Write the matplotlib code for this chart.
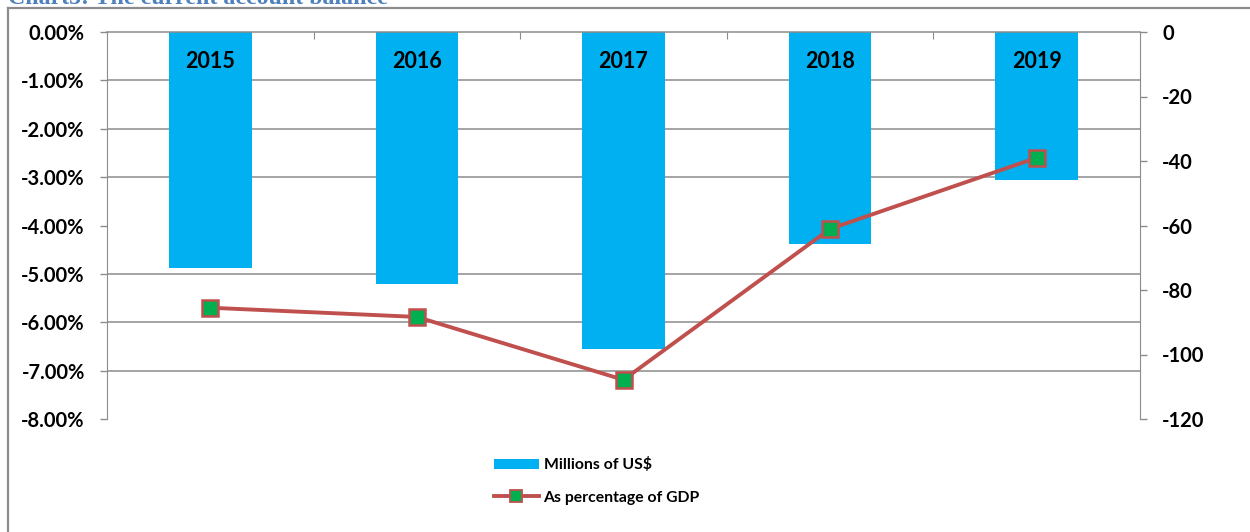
import matplotlib
matplotlib.use("Agg")
import matplotlib.pyplot as plt
from matplotlib.lines import Line2D
from matplotlib.patches import Patch
from matplotlib.ticker import FuncFormatter, MultipleLocator
import numpy as np

years = ["2015", "2016", "2017", "2018", "2019"]
millions_usd = [-73.2, -78.1, -98.3, -65.8, -45.9]
pct_gdp = [-5.70, -5.89, -7.19, -4.07, -2.60]

title = "Chart5: The current account balance"
bar_label = "Millions of US$"
line_label = "As percentage of GDP"

FONT = "Lato"
GRAY = "#8c8c8c"

fig = plt.figure(figsize=(12.5, 5.32), dpi=100)
ax2 = fig.add_axes([107/1250, 1-419/532, (1140-107)/1250, (419-32)/532])
ax = fig.add_axes(ax2.get_position(), sharex=ax2)
ax.patch.set_visible(False)

x = np.arange(len(years))

# back axis (right scale): bars + grid
ax2.bar(x, millions_usd, width=0.4, color="#00B0F0", zorder=2)
ax2.set_ylim(-120, 0)
ax2.set_xlim(-0.5, len(years) - 0.5)
ax2.yaxis.tick_right()
ax2.yaxis.set_major_locator(MultipleLocator(20))
ax2.yaxis.set_minor_locator(MultipleLocator(15))
ax2.set_axisbelow(True)
ax2.grid(which="minor", axis="y", color=GRAY, lw=1.1)
ax2.tick_params(axis="y", which="minor", length=0)
ax2.tick_params(axis="y", which="major", direction="out", length=5, width=1,
                color=GRAY, pad=11, labelsize=14.5)
ax2.yaxis.set_major_formatter(FuncFormatter(lambda v, p: f"{int(round(v))}"))
for lab in ax2.get_yticklabels():
    lab.set_fontfamily(FONT)
    lab.set_fontweight("bold")
ax2.set_xticks(np.arange(0.5, len(years) - 0.5, 1.0))
ax2.xaxis.tick_top()
ax2.tick_params(axis="x", direction="in", length=5, color=GRAY, labeltop=False, labelbottom=False)
for s in ["left", "bottom"]:
    ax2.spines[s].set_visible(False)
ax2.spines["right"].set_color(GRAY)
ax2.spines["top"].set_color(GRAY)
ax2.spines["top"].set_linewidth(1.1)

# front axis (left scale): line
ax.plot(x, pct_gdp, color="#C0504D", lw=2.8, marker="s", markersize=11.5,
        markerfacecolor="#00B050", markeredgecolor="#C0504D", markeredgewidth=1.8,
        zorder=3)
ax.set_ylim(-8, 0)
ax.yaxis.set_major_locator(MultipleLocator(1))
ax.yaxis.set_major_formatter(FuncFormatter(lambda v, p: f"{v:.2f}%"))
ax.tick_params(axis="y", direction="out", length=5, width=1, color=GRAY, pad=11, labelsize=14.5)
ax.tick_params(axis="x", length=0, labelbottom=False, labeltop=False)
for lab in ax.get_yticklabels():
    lab.set_fontfamily(FONT)
    lab.set_fontweight("bold")
for s in ["right", "top", "bottom"]:
    ax.spines[s].set_visible(False)
ax.spines["left"].set_color(GRAY)

for i, yr in enumerate(years):
    ax.text(i, -0.62, yr, ha="center", va="center", fontsize=15.5,
            fontweight="bold", fontfamily=FONT, color="black", zorder=4)

handles = [Patch(facecolor="#00B0F0", edgecolor="none"),
           Line2D([0], [0], color="#C0504D", lw=2.8, marker="s", markersize=8,
                  markerfacecolor="#00B050", markeredgecolor="#C0504D", markeredgewidth=1.3)]
fig.legend(handles, [bar_label, line_label], loc="center left",
           bbox_to_anchor=(480/1250, 1-481/532), frameon=False,
           prop={"family": FONT, "weight": "bold", "size": 11.3},
           handlelength=2.85, handleheight=0.55, labelspacing=1.15, handletextpad=0.3)

fig.text(8/1250, 1-4.5/532, title, ha="left", va="baseline", fontsize=17.2,
         fontfamily="Liberation Serif", fontweight="bold", color="#4F81BD")

fig.add_artist(Line2D([7.5/1250, 7.5/1250], [0, 1-8/532], color=GRAY, lw=1.6))
fig.add_artist(Line2D([7.5/1250, 1], [1-8/532, 1-8/532], color=GRAY, lw=1.6))

fig.savefig("out.png", dpi=100)
